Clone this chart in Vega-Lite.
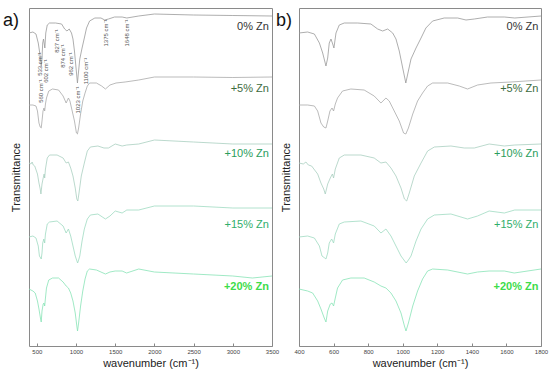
{
  "$schema": "https://vega.github.io/schema/vega-lite/v6.json",
  "padding": {"left": 2, "top": 7, "right": 0, "bottom": 0},
  "bounds": "flush",
  "spacing": 27,
  "config": {
    "font": "Liberation Sans",
    "view": {"stroke": "#8a8a8a", "strokeWidth": 1},
    "axisX": {
      "grid": false, "domain": false, "tickSize": -3, "tickColor": "#888", "labelPadding": 5, "labelOverlap": false, "labelFlush": false, "labelBound": false,
      "labelFontSize": 6, "labelColor": "#444", "labelFont": "Liberation Sans",
      "titleFont": "Liberation Sans", "titleFontSize": 11, "titleFontWeight": "normal", "titleColor": "#222", "titlePadding": 3
    },
    "axisY": {
      "grid": false, "domain": false, "ticks": false, "labels": false,
      "titleFont": "Liberation Sans", "titleFontSize": 11, "titleFontWeight": "normal", "titleColor": "#222", "titlePadding": 8
    }
  },
  "datasets": {
    "spec": [
      {"s":"0%","wn":400,"t":313},{"s":"0%","wn":450,"t":314},{"s":"0%","wn":489,"t":312},{"s":"0%","wn":518,"t":303},{"s":"0%","wn":537,"t":293},{"s":"0%","wn":556,"t":280},{"s":"0%","wn":566,"t":288},{"s":"0%","wn":575,"t":303},{"s":"0%","wn":585,"t":307},{"s":"0%","wn":595,"t":302},{"s":"0%","wn":602,"t":298},{"s":"0%","wn":614,"t":313},{"s":"0%","wn":633,"t":321},{"s":"0%","wn":662,"t":323},{"s":"0%","wn":739,"t":323},{"s":"0%","wn":816,"t":322},{"s":"0%","wn":855,"t":317},{"s":"0%","wn":884,"t":315},{"s":"0%","wn":913,"t":317},{"s":"0%","wn":942,"t":313},{"s":"0%","wn":961,"t":307},{"s":"0%","wn":980,"t":295},{"s":"0%","wn":1000,"t":278},{"s":"0%","wn":1018,"t":263},{"s":"0%","wn":1029,"t":272},{"s":"0%","wn":1048,"t":287},{"s":"0%","wn":1077,"t":298},{"s":"0%","wn":1106,"t":308},{"s":"0%","wn":1134,"t":318},{"s":"0%","wn":1173,"t":325},{"s":"0%","wn":1240,"t":328},{"s":"0%","wn":1318,"t":328},{"s":"0%","wn":1366,"t":326},{"s":"0%","wn":1414,"t":327},{"s":"0%","wn":1491,"t":329},{"s":"0%","wn":1588,"t":329},{"s":"0%","wn":1648,"t":328},{"s":"0%","wn":1800,"t":330},{"s":"0%","wn":2000,"t":332},{"s":"0%","wn":2500,"t":331},{"s":"0%","wn":3000,"t":330.5},{"s":"0%","wn":3500,"t":330},
      {"s":"5%","wn":400,"t":241},{"s":"5%","wn":450,"t":241},{"s":"5%","wn":489,"t":240},{"s":"5%","wn":508,"t":235},{"s":"5%","wn":527,"t":223},{"s":"5%","wn":543,"t":219},{"s":"5%","wn":556,"t":218},{"s":"5%","wn":566,"t":225},{"s":"5%","wn":579,"t":235},{"s":"5%","wn":591,"t":238},{"s":"5%","wn":600,"t":235},{"s":"5%","wn":610,"t":242},{"s":"5%","wn":623,"t":248},{"s":"5%","wn":652,"t":255},{"s":"5%","wn":700,"t":257},{"s":"5%","wn":777,"t":256},{"s":"5%","wn":835,"t":250},{"s":"5%","wn":874,"t":243},{"s":"5%","wn":903,"t":248},{"s":"5%","wn":922,"t":245},{"s":"5%","wn":951,"t":235},{"s":"5%","wn":980,"t":225},{"s":"5%","wn":1005,"t":213},{"s":"5%","wn":1018,"t":212},{"s":"5%","wn":1033,"t":218},{"s":"5%","wn":1058,"t":232},{"s":"5%","wn":1086,"t":245},{"s":"5%","wn":1115,"t":253},{"s":"5%","wn":1144,"t":260},{"s":"5%","wn":1173,"t":263},{"s":"5%","wn":1260,"t":263},{"s":"5%","wn":1327,"t":260},{"s":"5%","wn":1375,"t":257},{"s":"5%","wn":1433,"t":261},{"s":"5%","wn":1510,"t":263},{"s":"5%","wn":1626,"t":264},{"s":"5%","wn":1800,"t":266},{"s":"5%","wn":2000,"t":269},{"s":"5%","wn":2500,"t":269},{"s":"5%","wn":3000,"t":268.5},{"s":"5%","wn":3500,"t":269},
      {"s":"10%","wn":400,"t":183},{"s":"10%","wn":425,"t":182},{"s":"10%","wn":440,"t":184},{"s":"10%","wn":454,"t":181},{"s":"10%","wn":473,"t":180},{"s":"10%","wn":508,"t":172},{"s":"10%","wn":527,"t":163},{"s":"10%","wn":543,"t":157},{"s":"10%","wn":552,"t":152},{"s":"10%","wn":566,"t":162},{"s":"10%","wn":581,"t":168},{"s":"10%","wn":593,"t":172},{"s":"10%","wn":600,"t":168},{"s":"10%","wn":610,"t":177},{"s":"10%","wn":633,"t":188},{"s":"10%","wn":662,"t":191},{"s":"10%","wn":758,"t":191},{"s":"10%","wn":835,"t":188},{"s":"10%","wn":874,"t":183},{"s":"10%","wn":903,"t":184},{"s":"10%","wn":932,"t":178},{"s":"10%","wn":961,"t":170},{"s":"10%","wn":990,"t":158},{"s":"10%","wn":1010,"t":147},{"s":"10%","wn":1023,"t":145},{"s":"10%","wn":1038,"t":153},{"s":"10%","wn":1067,"t":170},{"s":"10%","wn":1106,"t":183},{"s":"10%","wn":1144,"t":195},{"s":"10%","wn":1183,"t":199},{"s":"10%","wn":1279,"t":200},{"s":"10%","wn":1356,"t":198},{"s":"10%","wn":1414,"t":198},{"s":"10%","wn":1500,"t":202},{"s":"10%","wn":1588,"t":200},{"s":"10%","wn":1648,"t":201},{"s":"10%","wn":1800,"t":202},{"s":"10%","wn":2000,"t":206},{"s":"10%","wn":2500,"t":204},{"s":"10%","wn":3000,"t":202},{"s":"10%","wn":3500,"t":202},
      {"s":"15%","wn":400,"t":109},{"s":"15%","wn":450,"t":110},{"s":"15%","wn":489,"t":108},{"s":"15%","wn":518,"t":100},{"s":"15%","wn":533,"t":90},{"s":"15%","wn":549,"t":88},{"s":"15%","wn":556,"t":87},{"s":"15%","wn":566,"t":93},{"s":"15%","wn":575,"t":103},{"s":"15%","wn":589,"t":107},{"s":"15%","wn":600,"t":103},{"s":"15%","wn":610,"t":112},{"s":"15%","wn":633,"t":122},{"s":"15%","wn":662,"t":124},{"s":"15%","wn":758,"t":125},{"s":"15%","wn":835,"t":120},{"s":"15%","wn":874,"t":113},{"s":"15%","wn":903,"t":117},{"s":"15%","wn":932,"t":110},{"s":"15%","wn":961,"t":100},{"s":"15%","wn":990,"t":90},{"s":"15%","wn":1020,"t":83},{"s":"15%","wn":1033,"t":86},{"s":"15%","wn":1048,"t":90},{"s":"15%","wn":1077,"t":105},{"s":"15%","wn":1106,"t":117},{"s":"15%","wn":1144,"t":127},{"s":"15%","wn":1183,"t":131},{"s":"15%","wn":1279,"t":132},{"s":"15%","wn":1375,"t":127},{"s":"15%","wn":1433,"t":130},{"s":"15%","wn":1500,"t":135},{"s":"15%","wn":1588,"t":133},{"s":"15%","wn":1648,"t":136},{"s":"15%","wn":1800,"t":136},{"s":"15%","wn":2000,"t":140},{"s":"15%","wn":2500,"t":140},{"s":"15%","wn":3000,"t":138},{"s":"15%","wn":3500,"t":138},
      {"s":"20%","wn":400,"t":57},{"s":"20%","wn":450,"t":55},{"s":"20%","wn":479,"t":53},{"s":"20%","wn":508,"t":45},{"s":"20%","wn":527,"t":37},{"s":"20%","wn":546,"t":28},{"s":"20%","wn":556,"t":24},{"s":"20%","wn":566,"t":35},{"s":"20%","wn":581,"t":42},{"s":"20%","wn":591,"t":43},{"s":"20%","wn":600,"t":40},{"s":"20%","wn":610,"t":48},{"s":"20%","wn":623,"t":58},{"s":"20%","wn":652,"t":66},{"s":"20%","wn":700,"t":68},{"s":"20%","wn":777,"t":68},{"s":"20%","wn":835,"t":64},{"s":"20%","wn":874,"t":60},{"s":"20%","wn":903,"t":58},{"s":"20%","wn":932,"t":53},{"s":"20%","wn":961,"t":45},{"s":"20%","wn":990,"t":33},{"s":"20%","wn":1010,"t":20},{"s":"20%","wn":1019,"t":15},{"s":"20%","wn":1033,"t":23},{"s":"20%","wn":1058,"t":40},{"s":"20%","wn":1086,"t":55},{"s":"20%","wn":1115,"t":67},{"s":"20%","wn":1144,"t":75},{"s":"20%","wn":1173,"t":77},{"s":"20%","wn":1260,"t":76},{"s":"20%","wn":1375,"t":72},{"s":"20%","wn":1433,"t":74},{"s":"20%","wn":1500,"t":75},{"s":"20%","wn":1588,"t":75},{"s":"20%","wn":1645,"t":73},{"s":"20%","wn":1800,"t":77},{"s":"20%","wn":2000,"t":74},{"s":"20%","wn":2500,"t":72},{"s":"20%","wn":3000,"t":70},{"s":"20%","wn":3250,"t":68},{"s":"20%","wn":3500,"t":70}
    ],
    "labels": [
      {"label":"0% Zn","y":319},{"label":"+5% Zn","y":257},{"label":"+10% Zn","y":192},{"label":"+15% Zn","y":121},{"label":"+20% Zn","y":59}
    ],
    "ann": [
      {"wn":534,"t":282,"lab":"533 cm⁻¹"},{"wn":559,"t":255,"lab":"560 cm⁻¹"},{"wn":617,"t":275,"lab":"602 cm⁻¹"},{"wn":751,"t":305,"lab":"827 cm⁻¹"},{"wn":834,"t":290,"lab":"874 cm⁻¹"},{"wn":936,"t":282,"lab":"962 cm⁻¹"},{"wn":1025,"t":246,"lab":"1023 cm⁻¹"},{"wn":1127,"t":275,"lab":"1100 cm⁻¹"},{"wn":1382,"t":313,"lab":"1375 cm⁻¹"},{"wn":1650,"t":313,"lab":"1648 cm⁻¹"}
    ]
  },
  "hconcat": [
    {
      "width": 243, "height": 338,
      "layer": [
        {
          "data": {"name": "spec"},
          "mark": {"type": "line", "strokeWidth": 0.8, "clip": true},
          "encoding": {
            "x": {"field": "wn", "type": "quantitative", "scale": {"domain": [400, 3500], "nice": false, "zero": false},
                  "axis": {"title": "wavenumber (cm⁻¹)", "labelOverlap": false, "values": [500,1000,1500,2000,2500,3000,3500], "format": "d"}},
            "y": {"field": "t", "type": "quantitative", "scale": {"domain": [0, 338], "nice": false, "zero": false}, "axis": {"title": "Transmittance"}},
            "stroke": {"field": "s", "type": "nominal", "scale": {"domain": ["0%","5%","10%","15%","20%"], "range": ["#999999","#aaaaaa","#a9cfc0","#a0dac2","#88e3b6"]}, "legend": null}
          }
        },
        {
          "data": {"name": "labels"},
          "transform": [{"filter": "datum.label != '+20% Zn'"}],
          "mark": {"type": "text", "align": "right", "baseline": "middle", "fontSize": 11, "font": "Liberation Sans"},
          "encoding": {
            "x": {"datum": 3460, "type": "quantitative"},
            "y": {"field": "y", "type": "quantitative"},
            "text": {"field": "label"},
            "fill": {"field": "label", "type": "nominal", "scale": {"domain": ["0% Zn","+5% Zn","+10% Zn","+15% Zn"], "range": ["#333333","#3d6b3d","#2a9d5c","#2fae6a"]}, "legend": null}
          }
        },
        {
          "data": {"name": "labels"},
          "transform": [{"filter": "datum.label == '+20% Zn'"}],
          "mark": {"type": "text", "align": "right", "baseline": "middle", "fontSize": 11, "fontWeight": "bold", "font": "Liberation Sans", "fill": "#3ddc4a"},
          "encoding": {
            "x": {"datum": 3460, "type": "quantitative"},
            "y": {"field": "y", "type": "quantitative"},
            "text": {"field": "label"}
          }
        },
        {
          "data": {"name": "ann"},
          "mark": {"type": "text", "angle": 270, "align": "center", "baseline": "middle", "fontSize": 6, "fill": "#555", "font": "Liberation Sans"},
          "encoding": {
            "x": {"field": "wn", "type": "quantitative"},
            "y": {"field": "t", "type": "quantitative"},
            "text": {"field": "lab"}
          }
        },
        {
          "data": {"values": [{"p": "a)"}]},
          "mark": {"type": "text", "align": "left", "baseline": "middle", "fontSize": 18, "fill": "#111", "font": "Liberation Sans"},
          "encoding": {
            "x": {"datum": 68, "type": "quantitative"},
            "y": {"datum": 325, "type": "quantitative"},
            "text": {"field": "p"}
          }
        }
      ]
    },
    {
      "width": 242, "height": 338,
      "layer": [
        {
          "data": {"name": "spec"},
          "mark": {"type": "line", "strokeWidth": 0.8, "clip": true},
          "encoding": {
            "x": {"field": "wn", "type": "quantitative", "scale": {"domain": [400, 1800], "nice": false, "zero": false},
                  "axis": {"title": "wavenumber (cm⁻¹)", "labelOverlap": false, "tickCount": 7, "format": "d"}},
            "y": {"field": "t", "type": "quantitative", "scale": {"domain": [0, 338], "nice": false, "zero": false}, "axis": {"title": "Transmittance"}},
            "stroke": {"field": "s", "type": "nominal", "scale": {"domain": ["0%","5%","10%","15%","20%"], "range": ["#999999","#aaaaaa","#a9cfc0","#a0dac2","#88e3b6"]}, "legend": null}
          }
        },
        {
          "data": {"name": "labels"},
          "transform": [{"filter": "datum.label != '+20% Zn'"}],
          "mark": {"type": "text", "align": "right", "baseline": "middle", "fontSize": 11, "font": "Liberation Sans"},
          "encoding": {
            "x": {"datum": 1785, "type": "quantitative"},
            "y": {"field": "y", "type": "quantitative"},
            "text": {"field": "label"},
            "fill": {"field": "label", "type": "nominal", "scale": {"domain": ["0% Zn","+5% Zn","+10% Zn","+15% Zn"], "range": ["#333333","#3d6b3d","#2a9d5c","#2fae6a"]}, "legend": null}
          }
        },
        {
          "data": {"name": "labels"},
          "transform": [{"filter": "datum.label == '+20% Zn'"}],
          "mark": {"type": "text", "align": "right", "baseline": "middle", "fontSize": 11, "fontWeight": "bold", "font": "Liberation Sans", "fill": "#3ddc4a"},
          "encoding": {
            "x": {"datum": 1785, "type": "quantitative"},
            "y": {"field": "y", "type": "quantitative"},
            "text": {"field": "label"}
          }
        },
        {
          "data": {"values": [{"p": "b)"}]},
          "mark": {"type": "text", "align": "left", "baseline": "middle", "fontSize": 18, "fill": "#111", "font": "Liberation Sans"},
          "encoding": {
            "x": {"datum": 267, "type": "quantitative"},
            "y": {"datum": 325, "type": "quantitative"},
            "text": {"field": "p"}
          }
        }
      ]
    }
  ]
}
